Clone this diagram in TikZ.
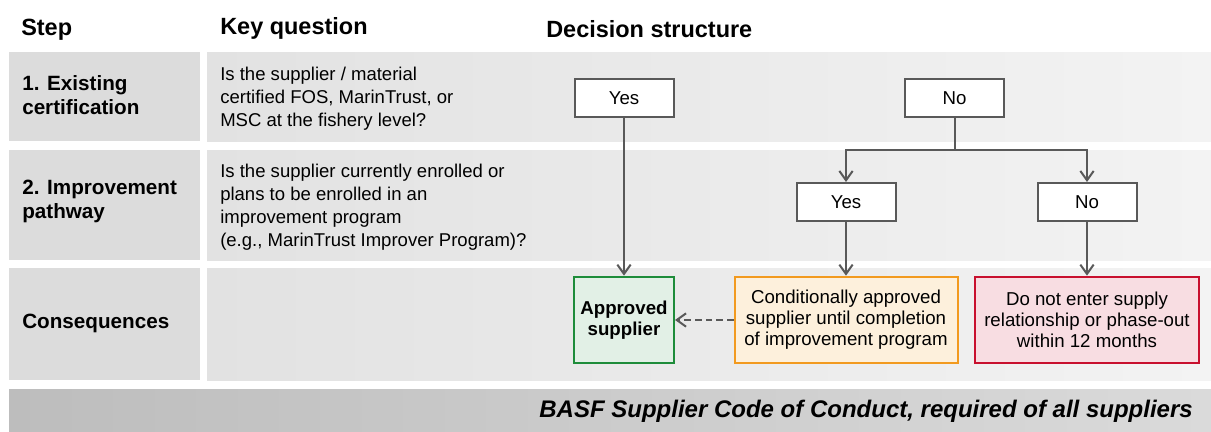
\documentclass[tikz,border=0pt]{standalone}
\usepackage{fontspec}
\setmainfont{Liberation Sans}
\usetikzlibrary{arrows.meta}
\definecolor{stepgray}{HTML}{DCDCDC}
\definecolor{bandL}{HTML}{E2E2E2}
\definecolor{bandR}{HTML}{F3F3F3}
\definecolor{barL}{HTML}{BDBDBD}
\definecolor{barR}{HTML}{DADADA}
\definecolor{linegray}{HTML}{595959}
\definecolor{okline}{HTML}{1E8C3A}
\definecolor{okfill}{HTML}{E2F0E6}
\definecolor{condline}{HTML}{F29A1F}
\definecolor{condfill}{HTML}{FDF0DC}
\definecolor{noline}{HTML}{C8102E}
\definecolor{nofill}{HTML}{F8DDE2}
\begin{document}
\begin{tikzpicture}[x=0.75pt,y=-0.75pt,
  hdr/.style={inner sep=0pt,anchor=base west,font=\fontsize{17.6pt}{20pt}\selectfont\bfseries},
  steplbl/.style={inner sep=0pt,anchor=west,align=left,font=\fontsize{15.5pt}{18pt}\selectfont\bfseries},
  keyq/.style={inner sep=0pt,anchor=west,align=left,font=\fontsize{13.9pt}{17.25pt}\selectfont},
  ansbox/.style={draw=linegray,line width=1.5pt,fill=white,minimum width=74.25pt,minimum height=28.5pt,inner sep=0pt,font=\fontsize{14pt}{16pt}\selectfont},
  outbox/.style={line width=1.5pt,minimum height=65pt,inner sep=0pt,align=center,font=\fontsize{14pt}{15.75pt}\selectfont},
  flow/.style={draw=linegray,line width=1.5pt,-{Straight Barb[length=7pt,width=10pt,line width=1.5pt]}},
  dashflow/.style={flow,dashed,dash pattern=on 5pt off 3pt}
]
\useasboundingbox (0,0) rectangle (1211,432);
\fill[white] (0,0) rectangle (1211,432);
% rows
\fill[stepgray] (9,52) rectangle (200,141);
\shade[left color=bandL,right color=bandR] (207,52) rectangle (1211,141);
\fill[stepgray] (9,150) rectangle (200,260);
\shade[left color=bandL,right color=bandR] (207,150) rectangle (1211,260);
\fill[stepgray] (9,268) rectangle (200,380);
\shade[left color=bandL,right color=bandR] (207,268) rectangle (1211,380);
\shade[left color=barL,right color=barR] (9,389) rectangle (1211,432);
% headers
\node[hdr] (hstep) at (21,36) {Step};
\node[hdr] (hkey) at (220,34) {Key question};
\node[hdr] (hdec) at (546,37) {Decision structure};
% step labels
\node[steplbl] (s1) at (22,95) {1. Existing\\certification};
\node[steplbl] (s2) at (22,201) {2. Improvement\\pathway};
\node[steplbl] (s3) at (22,323) {Consequences};
% key questions
\node[keyq] (q1) at (220,99) {Is the supplier / material\\certified FOS, MarinTrust, or\\MSC at the fishery level?};
\node[keyq] (q2) at (220,207) {Is the supplier currently enrolled or\\plans to be enrolled in an\\improvement program\\(e.g., MarinTrust Improver Program)?};
% decision boxes
\node[ansbox] (yes1) at (624,98) {Yes};
\node[ansbox] (no1) at (954.5,98) {No};
\node[ansbox] (yes2) at (846,202) {Yes};
\node[ansbox] (no2) at (1087,202) {No};
\node[outbox,draw=okline,fill=okfill,minimum width=75pt,font=\fontsize{14pt}{15.75pt}\selectfont\bfseries] (appr) at (624,320) {Approved\\supplier};
\node[outbox,draw=condline,fill=condfill,minimum width=167.25pt] (cond) at (846,320) {Conditionally approved\\supplier until completion\\of improvement program};
\node[outbox,draw=noline,fill=nofill,minimum width=168pt] (reject) at (1087,320) {Do not enter supply\\relationship or phase-out\\within 12 months};
% connectors
\coordinate (split) at (954.5,150);
\draw[flow] (yes1.south) -- (appr.north);
\draw[draw=linegray,line width=1.5pt] (no1.south) -- (split);
\draw[flow] (split) -| (yes2.north);
\draw[flow] (split) -| (no2.north);
\draw[flow] (yes2.south) -- (cond.north);
\draw[flow] (no2.south) -- (reject.north);
\draw[dashflow] (cond.west) -- (appr.east);
% footer
\node[inner sep=0pt,anchor=east,font=\fontsize{18pt}{20pt}\selectfont\bfseries\itshape] (foot) at (1193,411) {BASF Supplier Code of Conduct, required of all suppliers};
\end{tikzpicture}
\end{document}
